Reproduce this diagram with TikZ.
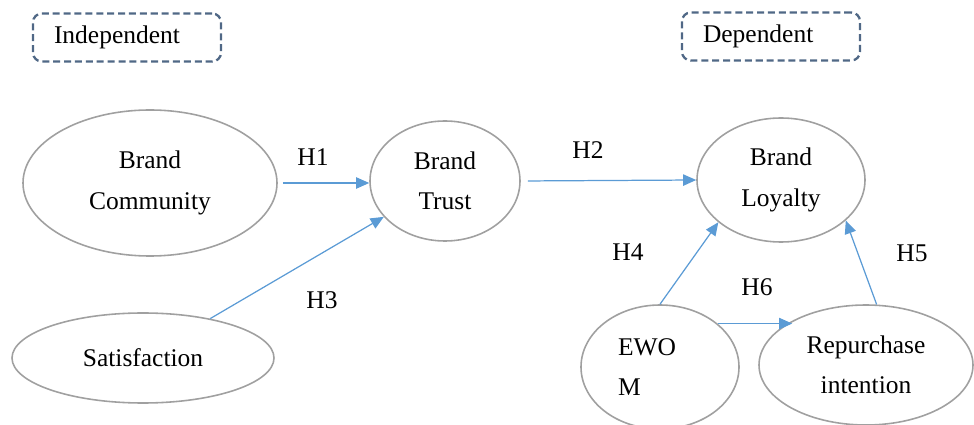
\documentclass[tikz,border=0pt]{standalone}
\usepackage{fontspec}
\setmainfont{Liberation Serif}
\usetikzlibrary{shapes.geometric,arrows.meta}

\definecolor{arrowblue}{RGB}{91,155,213}
\definecolor{ringgray}{RGB}{160,160,160}
\definecolor{boxblue}{RGB}{80,104,134}

\begin{document}
\begin{tikzpicture}[x=0.02cm,y=-0.02cm,
  font=\fontsize{14.5}{23}\selectfont,
  construct/.style={draw=ringgray, line width=0.9pt, ellipse, inner sep=0pt, align=center},
  hyp/.style={draw=arrowblue, line width=0.7pt, -{Triangle[length=7.5pt,width=6.5pt]}},
  groupbox/.style={draw=boxblue, line width=1.3pt, dash pattern=on 4pt off 2.2pt, rounded corners=5pt, minimum height=48*\PX cm, inner xsep=21*\PX cm, align=left}]

\def\PX{0.02}

\useasboundingbox (0,0) rectangle (974,425);

% group boxes
\node (ind) at (127,37.5) [groupbox, text width=146*\PX cm] {Independent};
\node (dep) at (771,36.5) [groupbox, text width=136*\PX cm] {Dependent};

% constructs
\node (bc) at (150,183) [construct, minimum width=254*\PX cm, minimum height=146*\PX cm] {Brand\\Community};
\node (bt) at (445,181) [construct, minimum width=150*\PX cm, minimum height=120*\PX cm] {Brand\\Trust};
\node (sat) at (143,358) [construct, minimum width=262*\PX cm, minimum height=90*\PX cm] {Satisfaction};
\node (bl) at (781,180) [construct, minimum width=168*\PX cm, minimum height=124*\PX cm] {Brand\\Loyalty};
\node (ewom) at (660,367) [construct, minimum width=158*\PX cm, minimum height=124*\PX cm, text width=84*\PX cm, align=left] {EWO\\M};
\node (rep) at (866,365) [construct, minimum width=214*\PX cm, minimum height=120*\PX cm] {Repurchase\\intention};

% hypotheses
\node (h1) at (313,157) {H1};
\node (h2) at (588,150) {H2};
\node (h3) at (322,300) {H3};
\node (h4) at (628,252) {H4};
\node (h5) at (912,253) {H5};
\node (h6) at (757,287) {H6};

\draw [hyp, shorten <=0.1cm] (bc.east) -- (bc.east -| bt.west);
\draw [hyp, shorten <=0.14cm] (bt.east) -- (bl.west);
\draw [hyp] (sat) -- (bt);
\draw [hyp] (ewom.north) -- (bl.214);
\draw [hyp] (rep.80) -- (bl.328);
\draw [hyp] (ewom.37) -- (ewom.37 -| rep.149);

\end{tikzpicture}
\end{document}
